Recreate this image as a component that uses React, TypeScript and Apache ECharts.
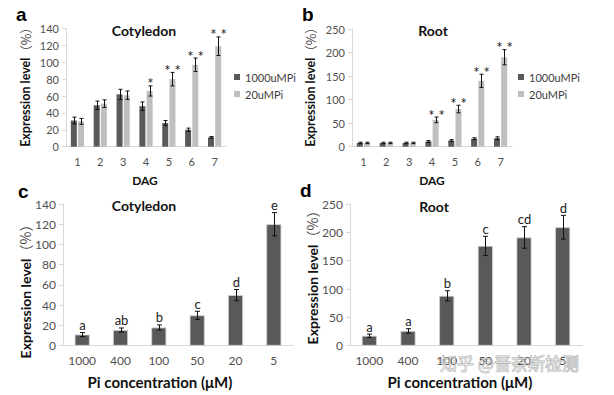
import React, { useEffect, useRef } from 'react';
import * as echarts from 'echarts';

const dagCategories = ['1', '2', '3', '4', '5', '6', '7'];
const seriesNames = ['1000uMPi', '20uMPi'];
const cotHighPi = [31, 49, 62, 48, 28, 20, 11];
const cotHighPiErr = [4, 5, 6, 5, 3, 2, 1];
const cotLowPi = [30, 51, 61, 66, 80, 97, 119];
const cotLowPiErr = [3.5, 4.5, 5, 6, 8, 8, 11];
const cotStars = ['', '', '', '*', '* *', '* *', '* *'];
const rootHighPi = [8, 8, 8, 11, 13, 17, 18];
const rootHighPiErr = [1.5, 1.5, 1.5, 2, 2, 2, 3];
const rootLowPi = [8, 8, 8, 57, 80, 140, 190];
const rootLowPiErr = [1.5, 1.5, 1.5, 6, 8, 14, 16];
const rootStars = ['', '', '', '* *', '* *', '* *', '* *'];
const piCategories = ['1000', '400', '100', '50', '20', '5'];
const cotPi = [11, 15.5, 18, 30, 50, 120];
const cotPiErr = [2, 2, 2.5, 4, 5.5, 11.5];
const cotPiLetters = ['a', 'ab', 'b', 'c', 'd', 'e'];
const rootPi = [17.5, 26, 88, 176, 191, 209];
const rootPiErr = [3, 4, 9, 17, 19, 21];
const rootPiLetters = ['a', 'a', 'b', 'c', 'cd', 'd'];

const FONT = 'Lato, "Open Sans", sans-serif';
const DARK = '#595959';
const LIGHT = '#bfbfbf';
const AXIS = '#d9d9d9';
const TICKTXT = '#505050';

function errorSeries(
  grid: number,
  values: number[],
  errs: number[],
  offset: number,
  capHalf: number,
  labels: string[] | null,
  labelSize: number,
  labelGap: number,
) {
  return {
    type: 'custom',
    xAxisIndex: grid,
    yAxisIndex: grid,
    z: 10,
    encode: { x: 0, y: 1 },
    data: values.map((v, i) => [i, v, errs[i]]),
    renderItem: (params: any, api: any) => {
      const i = api.value(0);
      const v = api.value(1);
      const e = api.value(2);
      const top = api.coord([i, v + e]);
      const bot = api.coord([i, v - e]);
      const x = Math.round(top[0] + offset) + 0.5;
      const style = { stroke: '#111', lineWidth: 1 };
      const children: any[] = [
        { type: 'line', shape: { x1: x, y1: top[1], x2: x, y2: bot[1] }, style },
        { type: 'line', shape: { x1: x - capHalf, y1: top[1], x2: x + capHalf, y2: top[1] }, style },
        { type: 'line', shape: { x1: x - capHalf, y1: bot[1], x2: x + capHalf, y2: bot[1] }, style },
      ];
      const lab = labels ? labels[params.dataIndex] : '';
      if (lab) {
        children.push({
          type: 'text',
          x: x,
          y: top[1] - labelGap,
          style: {
            text: lab,
            fill: '#222',
            font: `${labelSize}px ${FONT}`,
            align: 'center',
            verticalAlign: 'bottom',
          },
        });
      }
      return { type: 'group', children };
    },
  };
}

function makeX(grid: number, data: string[], size: number) {
  return {
    type: 'category',
    gridIndex: grid,
    data,
    axisLine: { show: true, lineStyle: { color: AXIS, width: 1 } },
    axisTick: { show: false },
    axisLabel: { color: TICKTXT, fontSize: size, fontFamily: FONT, margin: 9 },
  };
}

function makeY(grid: number, max: number, interval: number, size: number) {
  return {
    type: 'value',
    gridIndex: grid,
    min: 0,
    max,
    interval,
    axisLine: { show: true, lineStyle: { color: AXIS, width: 1 } },
    axisTick: { show: true, length: 4, lineStyle: { color: AXIS } },
    splitLine: { show: false },
    axisLabel: { color: TICKTXT, fontSize: size, fontFamily: FONT, margin: 7 },
  };
}

function txt(text: string, x: number, y: number, size: number, bold: boolean, extra: any = {}) {
  return {
    type: 'text',
    x,
    y,
    z: 50,
    style: {
      text,
      fill: '#111',
      font: `${bold ? 'bold ' : ''}${size}px ${FONT}`,
      align: 'center',
      verticalAlign: 'middle',
      ...extra,
    },
  };
}

function yName(x: number, y: number, size: number) {
  return {
    type: 'text',
    x,
    y,
    rotation: Math.PI / 2,
    z: 50,
    style: {
      text: '{b|Expression level}{n|（%）}',
      align: 'center',
      verticalAlign: 'middle',
      rich: {
        b: { font: `bold ${size}px ${FONT}`, fill: '#111' },
        n: { font: `${size}px "Noto Sans CJK SC", ${FONT}`, fill: '#444' },
      },
    },
  };
}

function panelLetter(t: string, x: number, y: number) {
  return {
    type: 'text',
    x,
    y,
    z: 50,
    style: {
      text: t,
      fill: '#000',
      font: 'bold 19px "Liberation Sans", Arial, sans-serif',
      align: 'left',
      verticalAlign: 'middle',
    },
  };
}

export default function App() {
  const ref = useRef<HTMLDivElement>(null);
  useEffect(() => {
    if (!ref.current) return;
    const chart = echarts.init(ref.current, null, { renderer: 'svg' });
    const barOff = 3.6;
    const option: any = {
      animation: false,
      backgroundColor: '#ffffff',
      grid: [
        { left: 66, top: 28.5, width: 160, height: 118.2 },
        { left: 352, top: 29, width: 160, height: 117.7 },
        { left: 63, top: 204, width: 230, height: 141.7 },
        { left: 350, top: 204, width: 232, height: 141.7 },
      ],
      xAxis: [
        makeX(0, dagCategories, 11),
        makeX(1, dagCategories, 11),
        makeX(2, piCategories, 12),
        makeX(3, piCategories, 12),
      ],
      yAxis: [
        makeY(0, 140, 20, 11),
        makeY(1, 250, 50, 11),
        makeY(2, 140, 20, 12),
        makeY(3, 250, 50, 12),
      ],
      legend: [
        {
          data: seriesNames,
          orient: 'vertical',
          left: 234,
          top: 71.5,
          padding: 0,
          itemWidth: 6,
          itemHeight: 6,
          itemGap: 6,
          icon: 'rect',
          textStyle: { fontSize: 11, color: '#404040', fontFamily: FONT },
        },
        {
          data: seriesNames,
          orient: 'vertical',
          left: 518,
          top: 71.5,
          padding: 0,
          itemWidth: 6,
          itemHeight: 6,
          itemGap: 6,
          icon: 'rect',
          textStyle: { fontSize: 11, color: '#404040', fontFamily: FONT },
        },
      ],
      series: [
        { name: seriesNames[0], type: 'bar', xAxisIndex: 0, yAxisIndex: 0, data: cotHighPi, barWidth: 6, barGap: '20%', itemStyle: { color: DARK } },
        { name: seriesNames[1], type: 'bar', xAxisIndex: 0, yAxisIndex: 0, data: cotLowPi, barWidth: 6, barGap: '20%', itemStyle: { color: LIGHT } },
        { name: seriesNames[0], type: 'bar', xAxisIndex: 1, yAxisIndex: 1, data: rootHighPi, barWidth: 6, barGap: '20%', itemStyle: { color: DARK } },
        { name: seriesNames[1], type: 'bar', xAxisIndex: 1, yAxisIndex: 1, data: rootLowPi, barWidth: 6, barGap: '20%', itemStyle: { color: LIGHT } },
        { name: 'c', type: 'bar', xAxisIndex: 2, yAxisIndex: 2, data: cotPi, barWidth: 15, itemStyle: { color: DARK, borderColor: '#cfcfcf', borderWidth: 0.8 } },
        { name: 'd', type: 'bar', xAxisIndex: 3, yAxisIndex: 3, data: rootPi, barWidth: 15, itemStyle: { color: DARK, borderColor: '#cfcfcf', borderWidth: 0.8 } },
        errorSeries(0, cotHighPi, cotHighPiErr, -barOff, 2, null, 12, 0),
        errorSeries(0, cotLowPi, cotLowPiErr, barOff, 2, cotStars, 15, -5),
        errorSeries(1, rootHighPi, rootHighPiErr, -barOff, 2, null, 12, 0),
        errorSeries(1, rootLowPi, rootLowPiErr, barOff, 2, rootStars, 15, -5),
        errorSeries(2, cotPi, cotPiErr, 0, 2.5, cotPiLetters, 13, 1),
        errorSeries(3, rootPi, rootPiErr, 0, 2.5, rootPiLetters, 13, 1),
      ],
      graphic: [
        panelLetter('a', 16, 14),
        panelLetter('b', 302, 14),
        panelLetter('c', 18, 191),
        panelLetter('d', 300, 190),
        txt('Cotyledon', 144, 30, 14, true),
        txt('Root', 433, 30, 14, true),
        txt('Cotyledon', 144, 205, 14, true),
        txt('Root', 434, 206, 14, true),
        txt('DAG', 145, 180, 12, true),
        txt('DAG', 432, 180, 12, true),
        txt('Pi concentration (μM)', 160, 382, 15, true),
        txt('Pi concentration (μM)', 460, 382, 15, true),
        yName(25, 84, 12.5),
        yName(310, 84, 12.5),
        yName(25, 288, 14),
        yName(312, 274, 14),
        {
          type: 'text',
          x: 440,
          y: 362,
          z: 100,
          style: {
            text: '知乎 @晋奈斯检测',
            font: '17px "Noto Sans CJK SC", sans-serif',
            fill: 'rgba(255,255,255,0.55)',
            stroke: 'rgba(110,110,110,0.55)',
            lineWidth: 1,
            align: 'left',
            verticalAlign: 'middle',
          },
        },
      ],
    };
    chart.setOption(option);
    return () => chart.dispose();
  }, []);
  return (
    <div
      ref={ref}
      style={{ position: 'fixed', left: 0, top: 0, width: 614, height: 395, background: '#fff' }}
    />
  );
}
